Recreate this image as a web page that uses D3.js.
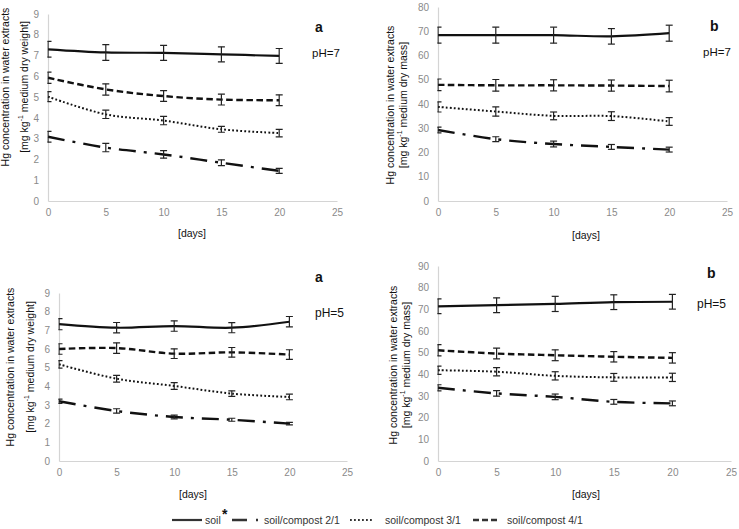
<!DOCTYPE html>
<html><head><meta charset="utf-8">
<script src="https://cdn.jsdelivr.net/npm/d3@7"></script>
<style>
html,body{margin:0;padding:0;background:#fff;}
svg{display:block;font-family:"Liberation Sans",Arial,sans-serif;}
</style></head>
<body>
<svg id="chart" width="739" height="529"></svg>
<script>
// ---------- DATA ----------
const days = [0, 5, 10, 15, 20];
const xTicks = [0, 5, 10, 15, 20, 25];
const seriesNames = ["soil", "soil/compost 2/1", "soil/compost 3/1", "soil/compost 4/1"];

// pH=7, panel a  [mg/kg medium dry weight]
const a7_soil = [7.30, 7.15, 7.13, 7.06, 6.98];
const a7_soil_err = [0.38, 0.38, 0.36, 0.36, 0.36];
const a7_c21 = [3.09, 2.57, 2.24, 1.84, 1.45];
const a7_c21_err = [0.26, 0.20, 0.18, 0.14, 0.12];
const a7_c31 = [5.02, 4.17, 3.87, 3.45, 3.27];
const a7_c31_err = [0.24, 0.20, 0.20, 0.14, 0.18];
const a7_c41 = [5.93, 5.37, 5.05, 4.88, 4.85];
const a7_c41_err = [0.27, 0.27, 0.26, 0.26, 0.26];
const a7_yTicks = [0, 1, 2, 3, 4, 5, 6, 7, 8, 9];

// pH=7, panel b  [mg/kg medium dry mass]
const b7_soil = [68.4, 68.4, 68.4, 67.9, 69.2];
const b7_soil_err = [3.3, 3.3, 3.3, 3.2, 3.3];
const b7_c21 = [29.3, 25.5, 23.5, 22.3, 21.2];
const b7_c21_err = [1.2, 1.0, 1.2, 1.0, 1.0];
const b7_c31 = [38.8, 36.9, 35.1, 35.0, 32.8];
const b7_c31_err = [2.1, 1.9, 1.6, 1.8, 1.6];
const b7_c41 = [47.9, 47.7, 47.7, 47.6, 47.4];
const b7_c41_err = [2.4, 2.4, 2.3, 2.3, 2.4];
const b7_yTicks = [0, 10, 20, 30, 40, 50, 60, 70, 80];

// pH=5, panel a
const a5_soil = [7.33, 7.14, 7.23, 7.14, 7.46];
const a5_soil_err = [0.30, 0.28, 0.28, 0.27, 0.28];
const a5_c21 = [3.20, 2.68, 2.36, 2.21, 2.00];
const a5_c21_err = [0.12, 0.12, 0.10, 0.08, 0.07];
const a5_c31 = [5.18, 4.41, 4.02, 3.61, 3.43];
const a5_c31_err = [0.20, 0.18, 0.18, 0.15, 0.15];
const a5_c41 = [6.00, 6.05, 5.75, 5.82, 5.70];
const a5_c41_err = [0.28, 0.28, 0.26, 0.26, 0.26];
const a5_yTicks = [0, 1, 2, 3, 4, 5, 6, 7, 8, 9];

// pH=5, panel b
const b5_soil = [71.4, 71.9, 72.5, 73.3, 73.5];
const b5_soil_err = [3.4, 3.4, 3.5, 3.4, 3.4];
const b5_c21 = [33.8, 31.2, 29.6, 27.3, 26.6];
const b5_c21_err = [1.4, 1.3, 1.3, 1.1, 1.1];
const b5_c31 = [41.9, 41.2, 39.3, 38.6, 38.6];
const b5_c31_err = [1.9, 1.9, 1.9, 1.8, 1.9];
const b5_c41 = [51.1, 49.6, 48.8, 48.1, 47.6];
const b5_c41_err = [2.6, 2.5, 2.5, 2.4, 2.4];
const b5_yTicks = [0, 10, 20, 30, 40, 50, 60, 70, 80, 90];

// ---------- STYLES ----------
const lineStyle = {
  "soil": {dash: null, w: 2.2},
  "soil/compost 2/1": {dash: "17,8,3,8", w: 2.4},
  "soil/compost 3/1": {dash: "1.8,2.2", w: 2.0},
  "soil/compost 4/1": {dash: "6.5,3.5", w: 2.4}
};

const panels = [
  {id: "p1", letter: "a", ph: "pH=7", unit: "medium dry weight",
   series: [[a7_soil, a7_soil_err], [a7_c21, a7_c21_err], [a7_c31, a7_c31_err], [a7_c41, a7_c41_err]],
   yTicks: a7_yTicks, x0: 48, x1: 337, yTop: 14, yBot: 201,
   lab1x: 6, lab2x: 25, labY: 87, letterPos: [315, 32], phPos: [312, 57], phSize: 11.5,
   daysPos: [192, 237]},
  {id: "p2", letter: "b", ph: "pH=7", unit: "medium dry mass",
   series: [[b7_soil, b7_soil_err], [b7_c21, b7_c21_err], [b7_c31, b7_c31_err], [b7_c41, b7_c41_err]],
   yTicks: b7_yTicks, x0: 438, x1: 727, yTop: 7, yBot: 201,
   lab1x: 391, lab2x: 404, labY: 105, letterPos: [710, 31], phPos: [703, 56], phSize: 11.5,
   daysPos: [586, 239]},
  {id: "p3", letter: "a", ph: "pH=5", unit: "medium dry weight",
   series: [[a5_soil, a5_soil_err], [a5_c21, a5_c21_err], [a5_c31, a5_c31_err], [a5_c41, a5_c41_err]],
   yTicks: a5_yTicks, x0: 59, x1: 347, yTop: 293, yBot: 461,
   lab1x: 11, lab2x: 31, labY: 367, letterPos: [315, 282], phPos: [315, 317], phSize: 12,
   daysPos: [193, 498]},
  {id: "p4", letter: "b", ph: "pH=5", unit: "medium dry mass",
   series: [[b5_soil, b5_soil_err], [b5_c21, b5_c21_err], [b5_c31, b5_c31_err], [b5_c41, b5_c41_err]],
   yTicks: b5_yTicks, x0: 438, x1: 731, yTop: 266, yBot: 461,
   lab1x: 394, lab2x: 407, labY: 365, letterPos: [707, 278], phPos: [697, 308], phSize: 12,
   daysPos: [586, 498]}
];

const svg = d3.select("#chart");
const axisColor = "#d4d4d4";
const tickColor = "#8a8a8a";

panels.forEach(p => {
  const x = d3.scaleLinear().domain([0, 25]).range([p.x0, p.x1]);
  const y = d3.scaleLinear().domain([0, d3.max(p.yTicks)]).range([p.yBot, p.yTop]);
  const g = svg.append("g");

  svg.append("clipPath").attr("id", "clip-" + p.id)
    .append("rect").attr("x", p.x0 - 0.6).attr("y", 0)
    .attr("width", p.x1 - p.x0 + 20).attr("height", 529);

  const xAxis = d3.axisBottom(x).tickValues(xTicks).tickSize(0).tickPadding(8);
  const gx = g.append("g").attr("transform", `translate(0,${p.yBot})`).call(xAxis);
  const yAxis = d3.axisLeft(y).tickValues(p.yTicks).tickSize(0).tickPadding(9);
  const gy = g.append("g").attr("transform", `translate(${p.x0},0)`).call(yAxis);
  [gx, gy].forEach(a => {
    a.select(".domain").attr("stroke", axisColor).attr("stroke-width", 1.2);
    a.selectAll("text").attr("fill", tickColor).attr("font-size", 10)
      .attr("font-family", "Liberation Sans, Arial, sans-serif");
  });

  const plot = g.append("g").attr("clip-path", `url(#clip-${p.id})`);
  const line = d3.line().x(d => x(d[0])).y(d => y(d[1])).curve(d3.curveCatmullRom.alpha(0.5));

  p.series.forEach((s, i) => {
    const name = seriesNames[i];
    const st = lineStyle[name];
    const pts = days.map((d, k) => [d, s[0][k], s[1][k]]);
    plot.append("path").datum(pts)
      .attr("d", line).attr("fill", "none").attr("stroke", "#111")
      .attr("stroke-width", st.w).attr("stroke-dasharray", st.dash);
    const eb = plot.append("g").attr("stroke", "#222").attr("stroke-width", 1.2).attr("fill", "none");
    pts.forEach(d => {
      const cx = x(d[0]), yt = y(d[1] + d[2]), yb = y(d[1] - d[2]);
      eb.append("line").attr("x1", cx).attr("x2", cx).attr("y1", yt).attr("y2", yb);
      eb.append("line").attr("x1", cx - 3.5).attr("x2", cx + 3.5).attr("y1", yt).attr("y2", yt);
      eb.append("line").attr("x1", cx - 3.5).attr("x2", cx + 3.5).attr("y1", yb).attr("y2", yb);
    });
  });

  g.append("text")
    .attr("transform", `translate(${p.lab1x},${p.labY}) rotate(-90)`)
    .attr("text-anchor", "middle").attr("dominant-baseline", "middle")
    .attr("font-size", 10.5).attr("fill", "#111")
    .text("Hg concentration in water extracts");
  const t2 = g.append("text")
    .attr("transform", `translate(${p.lab2x},${p.labY}) rotate(-90)`)
    .attr("text-anchor", "middle").attr("dominant-baseline", "middle")
    .attr("font-size", 10.5).attr("fill", "#111");
  t2.append("tspan").text("[mg kg");
  t2.append("tspan").attr("font-size", 7).attr("dy", -4).text("-1");
  t2.append("tspan").attr("dy", 4).text(" " + p.unit + "]");

  g.append("text").attr("x", p.letterPos[0]).attr("y", p.letterPos[1])
    .attr("font-size", 14).attr("font-weight", "bold").attr("fill", "#111").text(p.letter);
  g.append("text").attr("x", p.phPos[0]).attr("y", p.phPos[1])
    .attr("font-size", p.phSize).attr("fill", "#111").text(p.ph);

  g.append("text").attr("x", p.daysPos[0]).attr("y", p.daysPos[1])
    .attr("text-anchor", "middle").attr("font-size", 10.5).attr("fill", "#111").text("[days]");
});

// ---------- LEGEND ----------
const lg = svg.append("g").attr("font-size", 10.5).attr("fill", "#333");
const ly = 520;
lg.append("line").attr("x1", 172).attr("x2", 202).attr("y1", ly).attr("y2", ly)
  .attr("stroke", "#333").attr("stroke-width", 2.2);
lg.append("text").attr("x", 205).attr("y", ly + 3.5).text(seriesNames[0]);
lg.append("text").attr("x", 222).attr("y", ly - 1).attr("font-size", 14).attr("font-weight", "bold")
  .attr("fill", "#111").text("*");
lg.append("line").attr("x1", 232).attr("x2", 258).attr("y1", ly).attr("y2", ly)
  .attr("stroke", "#333").attr("stroke-width", 2.4).attr("stroke-dasharray", "15,9,2.5,9");
lg.append("text").attr("x", 264).attr("y", ly + 3.5).text(seriesNames[1]);
lg.append("line").attr("x1", 350).attr("x2", 374).attr("y1", ly).attr("y2", ly)
  .attr("stroke", "#333").attr("stroke-width", 2).attr("stroke-dasharray", "1.8,2.2");
lg.append("text").attr("x", 385).attr("y", ly + 3.5).text(seriesNames[2]);
lg.append("line").attr("x1", 473).attr("x2", 500).attr("y1", ly).attr("y2", ly)
  .attr("stroke", "#333").attr("stroke-width", 2.4).attr("stroke-dasharray", "6,3");
lg.append("text").attr("x", 507).attr("y", ly + 3.5).text(seriesNames[3]);
</script>
</body></html>
